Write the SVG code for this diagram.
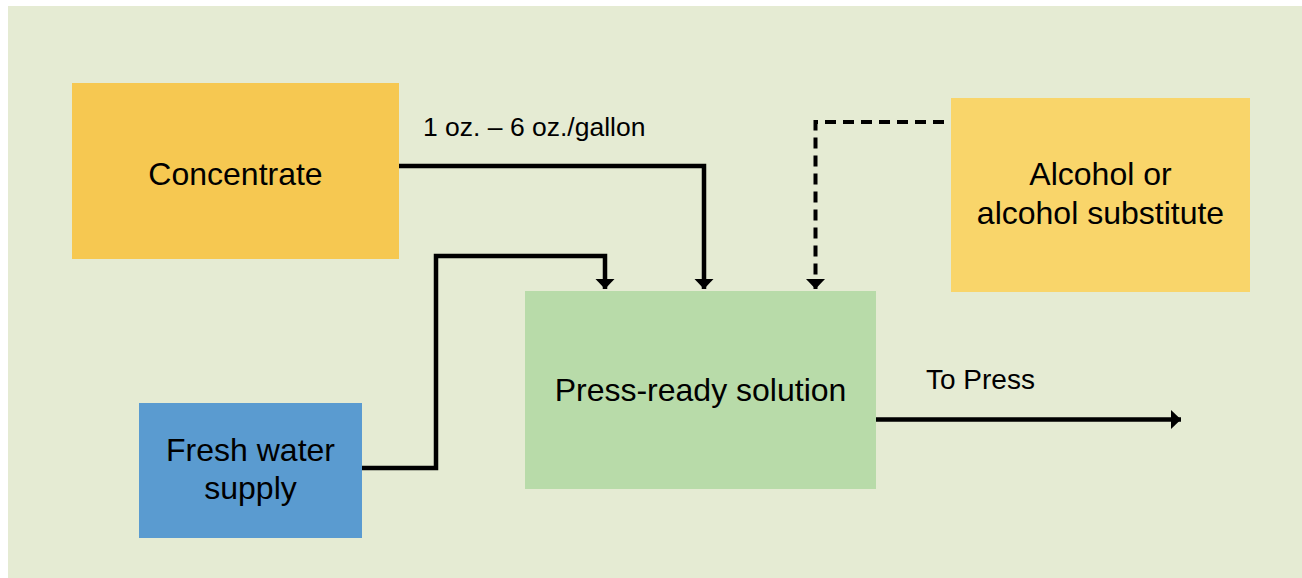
<svg xmlns="http://www.w3.org/2000/svg" width="1302" height="578" viewBox="0 0 1302 578">
<style>
.node-text{font-family:"Liberation Sans",Arial,sans-serif;font-size:32px;fill:#000;text-anchor:middle}
.label{font-family:"Liberation Sans",Arial,sans-serif;fill:#000}
.conn{fill:none;stroke:#000;stroke-width:4.5;stroke-linejoin:miter}
.dashed{stroke-dasharray:11 7;stroke-width:4}
</style>
<defs>
<marker id="arrow" markerUnits="userSpaceOnUse" markerWidth="11" markerHeight="20" refX="10" refY="9.5" orient="auto" viewBox="0 0 11 20">
<path d="M0,0 L10,9.5 L0,19 z" fill="#000"/>
</marker>
</defs>
<rect x="0" y="0" width="1302" height="578" fill="#ffffff"/>
<rect x="8" y="6" width="1294" height="572" fill="#E5EBD3"/>
<g id="concentrate">
<rect x="72" y="83" width="327" height="176" fill="#F6C851"/>
<text class="node-text" x="235.5" y="185">Concentrate</text>
</g>
<g id="alcohol">
<rect x="951" y="98" width="299" height="194" fill="#F9D56A"/>
<text class="node-text" x="1100.5" y="185">Alcohol or</text>
<text class="node-text" x="1100.5" y="224">alcohol substitute</text>
</g>
<g id="press-ready">
<rect x="525" y="291" width="351" height="198" fill="#B8DBA9"/>
<text class="node-text" x="700.5" y="401">Press-ready solution</text>
</g>
<g id="fresh-water">
<rect x="139" y="403" width="223" height="135" fill="#5A9BD0"/>
<text class="node-text" x="250.5" y="461">Fresh water</text>
<text class="node-text" x="250.5" y="499">supply</text>
</g>
<g id="connectors">
<path class="conn" d="M399,166 H704 V289" marker-end="url(#arrow)"/>
<path class="conn" d="M362,468 H436 V256 H605 V289" marker-end="url(#arrow)"/>
<path class="conn dashed" d="M944,122 H815.5 V289" marker-end="url(#arrow)"/>
<path class="conn" d="M876,419.5 H1181" marker-end="url(#arrow)"/>
<text class="label" x="423" y="136" font-size="26.5">1 oz. – 6 oz./gallon</text>
<text class="label" x="926" y="389" font-size="28">To Press</text>
</g>
</svg>
